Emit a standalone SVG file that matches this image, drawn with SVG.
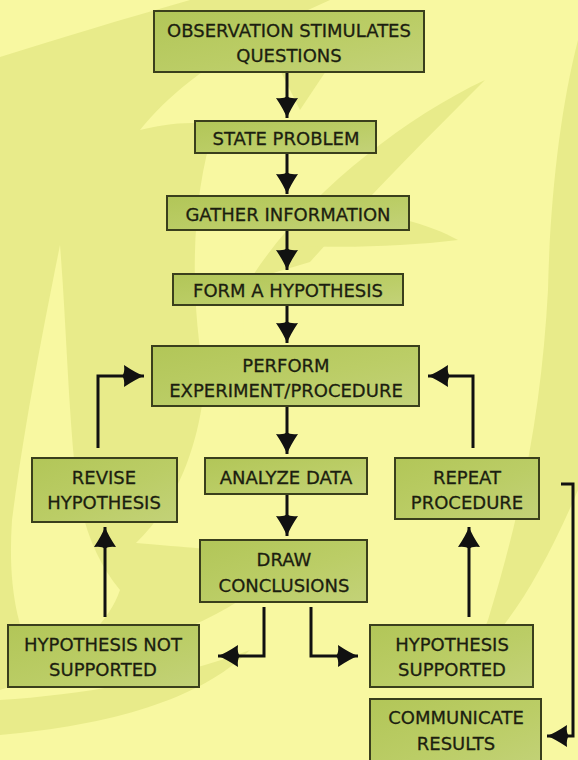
<svg xmlns="http://www.w3.org/2000/svg" width="578" height="760" viewBox="0 0 578 760">
<defs>
<linearGradient id="boxfill" x1="0" y1="0" x2="1" y2="1">
<stop offset="0" stop-color="#b2c658"/>
<stop offset="0.55" stop-color="#bbcd66"/>
<stop offset="1" stop-color="#c3d278"/>
</linearGradient>
<marker id="ah" viewBox="-24 -12 25 24" refX="0" refY="0" markerWidth="25" markerHeight="24" markerUnits="userSpaceOnUse" orient="auto">
<path d="M0,0 Q-8,-3 -20,-11 Q-19,-3 -22,0 Q-19,3 -20,11 Q-8,3 0,0 Z" fill="#111"/>
</marker>
<style>
.box{fill:url(#boxfill);stroke:#3a3f1c;stroke-width:2}
.t{font-family:"DejaVu Sans","Liberation Sans",sans-serif;font-size:18px;fill:#1c1e10;stroke:#1c1e10;stroke-width:0.3;text-anchor:middle}
.c{fill:none;stroke:#111;stroke-width:3;marker-end:url(#ah)}
.bg2{fill:#e8eb8a}
.bg1{fill:#f8f8a1}
</style>
</defs>
<rect width="578" height="760" fill="#f8f8a1"/>
<g id="background">
<path class="bg2" d="M0,57 C60,38 120,20 190,0 L330,0 C250,35 180,80 140,130 C160,125 190,120 215,125 C190,200 190,300 205,380 C200,470 210,540 240,600 C180,640 90,660 0,690 Z"/>
<path class="bg1" d="M60,245 C45,320 25,420 12,520 C8,580 15,630 40,670 C80,650 110,620 120,590 C95,560 80,520 75,470 C68,400 66,320 60,245 Z"/>
<path class="bg1" d="M215,125 C240,200 250,290 240,380 C235,470 250,520 300,545 C260,555 220,550 136,543 C180,500 200,440 205,380 C195,300 195,200 215,125 Z"/>
<path class="bg2" d="M0,700 C80,695 170,680 250,650 C200,700 110,725 0,735 Z"/>
<path class="bg2" d="M250,280 C300,200 400,120 485,80 C430,135 370,195 310,262 Z"/>
<path class="bg2" d="M300,212 C370,206 425,222 458,240 C410,246 350,248 300,246 Z"/>
<path class="bg2" d="M578,40 C560,110 550,200 548,290 C542,400 525,500 488,620 C478,645 468,660 462,668 C500,640 540,580 578,490 Z"/>
<path class="bg2" d="M280,70 C300,60 330,40 360,20 C340,50 320,80 300,110 Z"/>
</g>
<g id="connectors">
<line class="c" x1="287" y1="72" x2="287" y2="118"/>
<line class="c" x1="287" y1="153" x2="287" y2="194"/>
<line class="c" x1="287" y1="230" x2="287" y2="270"/>
<line class="c" x1="287" y1="305" x2="287" y2="343"/>
<line class="c" x1="287" y1="406" x2="287" y2="454"/>
<line class="c" x1="287" y1="494" x2="287" y2="536"/>
<polyline class="c" points="98,448 98,376 144,376"/>
<polyline class="c" points="473,448 473,376 428,376"/>
<line class="c" x1="105" y1="617" x2="105" y2="527"/>
<line class="c" x1="469" y1="617" x2="469" y2="527"/>
<polyline class="c" points="264,607 264,656 218,656"/>
<polyline class="c" points="311,607 311,656 358,656"/>
<polyline class="c" points="561,484 573,484 573,736 547,736"/>
</g>
<g id="n1"><rect class="box" x="154" y="11" width="270" height="61"/><text class="t" x="289" y="37">OBSERVATION STIMULATES</text><text class="t" x="289" y="62">QUESTIONS</text></g>
<g id="n2"><rect class="box" x="195" y="121" width="181" height="32"/><text class="t" x="286" y="145">STATE PROBLEM</text></g>
<g id="n3"><rect class="box" x="167" y="196" width="242" height="34"/><text class="t" x="288" y="221">GATHER INFORMATION</text></g>
<g id="n4"><rect class="box" x="173" y="274" width="230" height="31"/><text class="t" x="288" y="297">FORM A HYPOTHESIS</text></g>
<g id="n5"><rect class="box" x="152" y="346" width="267" height="60"/><text class="t" x="286" y="372">PERFORM</text><text class="t" x="286" y="397">EXPERIMENT/PROCEDURE</text></g>
<g id="n6"><rect class="box" x="32" y="458" width="145" height="64"/><text class="t" x="104" y="484">REVISE</text><text class="t" x="104" y="509">HYPOTHESIS</text></g>
<g id="n7"><rect class="box" x="205" y="458" width="162" height="36"/><text class="t" x="286" y="484">ANALYZE DATA</text></g>
<g id="n8"><rect class="box" x="395" y="458" width="144" height="61"/><text class="t" x="467" y="484">REPEAT</text><text class="t" x="467" y="509">PROCEDURE</text></g>
<g id="n9"><rect class="box" x="200" y="540" width="167" height="62"/><text class="t" x="284" y="566">DRAW</text><text class="t" x="284" y="592">CONCLUSIONS</text></g>
<g id="n10"><rect class="box" x="8" y="625" width="191" height="62"/><text class="t" x="103" y="651">HYPOTHESIS NOT</text><text class="t" x="103" y="676">SUPPORTED</text></g>
<g id="n11"><rect class="box" x="370" y="625" width="163" height="62"/><text class="t" x="452" y="651">HYPOTHESIS</text><text class="t" x="452" y="676">SUPPORTED</text></g>
<g id="n12"><rect class="box" x="370" y="699" width="171" height="70"/><text class="t" x="456" y="724">COMMUNICATE</text><text class="t" x="456" y="750">RESULTS</text></g>
</svg>
